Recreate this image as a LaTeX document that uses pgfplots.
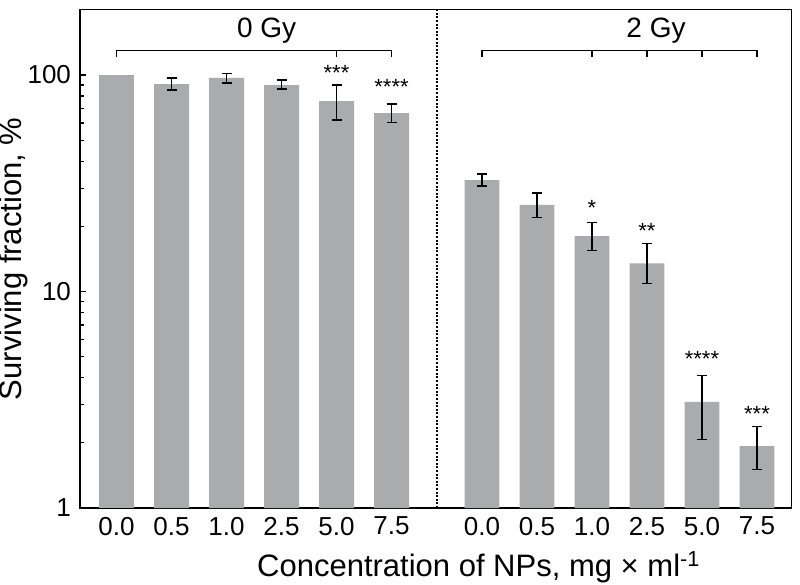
\documentclass[border=0pt]{standalone}
\usepackage{pgfplots}
\usepackage{pgfplotstable}
\pgfplotsset{compat=1.18}
\usepackage{fontspec}
\setmainfont{Liberation Sans}
\definecolor{bargray}{RGB}{170,171,173}
\pgfplotstableread{
x y ep em
1 90.8 6.1 5.5
2 96.9 5.1 5.1
3 89.9 4.9 3.7
4 75.8 14.1 13.8
5 66.7 6.8 6.1
6.645 32.7 2.2 2.0
7.645 25.1 3.4 3.2
8.645 18.0 2.9 2.5
9.645 13.5 3.1 2.6
10.645 3.09 1.02 1.01
11.645 1.93 0.44 0.42
}\datatable
\begin{document}
\begin{tikzpicture}
\path[use as bounding box] (-40pt,-38.5pt) rectangle (360pt,254pt);
\begin{axis}[
  at={(0,0)}, anchor=south west,
  scale only axis,
  width=355.85pt, height=249.25pt,
  ymode=log,
  ymin=1, ymax=200.7,
  xmin=-0.664, xmax=12.276,
  xtick={0,1,2,3,4,5,6.645,7.645,8.645,9.645,10.645,11.645},
  xticklabels={0.0,0.5,1.0,2.5,5.0,7.5,0.0,0.5,1.0,2.5,5.0,7.5},
  x tick style={draw=none},
  ytick={1,10,100},
  yticklabels={1,10,100},
  tick align=inside,
  major tick length=3pt,
  minor tick length=2pt,
  y tick style={line width=0.6pt, black},
  ytick pos=left,
  xtick pos=bottom,
  axis line style={line width=0.8pt, black},
  tick label style={font=\fontsize{13}{15}\selectfont},
  xticklabel style={yshift=-1pt},
  yticklabel style={xshift=-1pt},
  label style={font=\fontsize{15.5}{18}\selectfont},
  xlabel={Concentration of NPs, mg × ml\textsuperscript{-1}},
  ylabel={Surviving fraction, \%},
  xlabel style={yshift=-1pt, xshift=21.5pt},
  ylabel style={yshift=-7pt},
  clip=false,
]
\addplot[ybar, bar shift=0pt, bar width=0.636, fill=bargray, draw=none]
  coordinates {(0,100)};
\addplot[ybar, bar shift=0pt, bar width=0.636, fill=bargray, draw=none,
  error bars/.cd, y dir=both, y explicit,
  error bar style={line width=0.6pt, black},
  error mark options={rotate=90, mark size=2.5pt, line width=0.6pt, black}]
  table[x=x, y=y, y error plus=ep, y error minus=em] {\datatable};
\draw[dash pattern=on 1pt off 0.8pt, line width=0.9pt] (axis cs:5.833,1) -- (axis cs:5.833,200.7);
% brackets
\draw[line width=0.7pt] (axis cs:0,121.5) -- (axis cs:0,129.5) -- (axis cs:5,129.5) -- (axis cs:5,121.5);
\draw[line width=0.7pt] (axis cs:4,129.5) -- (axis cs:4,121.5);
\draw[line width=0.7pt] (axis cs:6.645,121.5) -- (axis cs:6.645,129.5) -- (axis cs:11.645,129.5) -- (axis cs:11.645,121.5);
\draw[line width=0.7pt] (axis cs:8.645,129.5) -- (axis cs:8.645,121.5);
\draw[line width=0.7pt] (axis cs:9.645,129.5) -- (axis cs:9.645,121.5);
\draw[line width=0.7pt] (axis cs:10.645,129.5) -- (axis cs:10.645,121.5);
\node[font=\fontsize{14}{16}\selectfont] at (axis cs:2.73,161) {0 Gy};
\node[font=\fontsize{14}{16}\selectfont] at (axis cs:9.81,161) {2 Gy};
% significance stars
\node[font=\fontsize{11}{12}\selectfont, anchor=base] at (axis cs:4,94) {***};
\node[font=\fontsize{11}{12}\selectfont, anchor=base] at (axis cs:5,81) {****};
\node[font=\fontsize{11}{12}\selectfont, anchor=base] at (axis cs:8.645,22.5) {*};
\node[font=\fontsize{11}{12}\selectfont, anchor=base] at (axis cs:9.645,17.6) {**};
\node[font=\fontsize{11}{12}\selectfont, anchor=base] at (axis cs:10.645,4.5) {****};
\node[font=\fontsize{11}{12}\selectfont, anchor=base] at (axis cs:11.645,2.5) {***};
\end{axis}
\end{tikzpicture}
\end{document}
